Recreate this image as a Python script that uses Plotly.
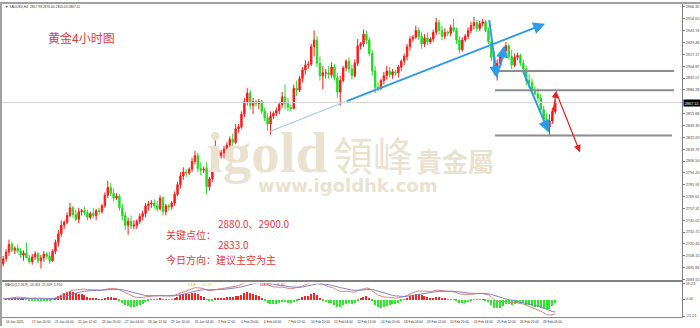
import plotly.graph_objects as go

W, H = 700, 328

# ---------------- data (XAUUSD H4) ----------------
opens = [2700,2705,2712,2720, 2714,2716,2713,2709,2711,2706,
         2702,2707,2710,2703,2706,2710, 2708,2703,2713,2722,2731,2740,
         2743,2750,2758,2751,2746,2754, 2755,2753,2748,2752,2750,2755,
         2754,2760,2771,2779,2773,2768, 2770,2758,2750,2740,2744,2739,
         2740,2744,2749,2752,2760,2762, 2763,2760,2757,2768,2754,2760,
         2759,2763,2772,2782,2791,2795, 2794,2798,2806,2812,2799,2797,
         2799,2780,2788,2805,2818,2812, 2815,2819,2823,2829,2826,2840,
         2842,2855,2868,2877,2864,2868, 2866,2868,2858,2851,2845,2853,
         2856,2859,2865,2873,2866,2862, 2861,2882,2880,2892,2901,2906,
         2907,2925,2932,2908,2895,2898, 2898,2896,2904,2893,2878,2890,
         2903,2910,2902,2895,2908,2926, 2928,2938,2932,2918,2900,2883,
         2882,2890,2895,2900,2896,2899, 2898,2904,2910,2915,2925,2933,
         2935,2942,2936,2928,2934,2930, 2933,2940,2950,2942,2936,2940,
         2939,2945,2942,2932,2922,2932, 2936,2942,2947,2950,2944,2949,
         2951,2942,2930,2914,2900,2908, 2915,2921,2926,2915,2906,2914,
         2916,2908,2902,2890,2888,2880, 2876,2872,2860,2850,2842,2848,
         2857.93]
highs = [2708,2715,2725,2723, 2718,2720,2716,2714,2722,2709,
         2710,2713,2712,2709,2713,2712, 2712,2715,2725,2735,2745,2745,
         2753,2763,2760,2756,2758,2757, 2759,2756,2754,2758,2757,2758,
         2762,2774,2786,2784,2778,2773, 2772,2762,2754,2748,2750,2745,
         2746,2752,2755,2763,2765,2766, 2767,2765,2771,2770,2762,2762,
         2765,2775,2785,2795,2800,2798, 2800,2810,2817,2815,2805,2801,
         2805,2790,2808,2830,2822,2818, 2822,2826,2832,2835,2845,2845,
         2858,2872,2882,2880,2872,2870, 2871,2870,2862,2856,2858,2858,
         2862,2868,2878,2886,2872,2865, 2886,2890,2895,2904,2911,2910,
         2928,2942,2936,2915,2905,2902, 2905,2909,2907,2898,2895,2905,
         2912,2914,2906,2912,2933,2930, 2943,2942,2935,2922,2905,2888,
         2892,2899,2905,2904,2902,2901, 2906,2912,2918,2928,2936,2937,
         2947,2945,2940,2938,2940,2935, 2943,2955,2953,2947,2944,2942,
         2948,2954,2945,2936,2935,2938, 2945,2951,2956,2953,2952,2954,
         2953,2945,2933,2920,2912,2918, 2924,2930,2928,2922,2918,2919,
         2918,2912,2905,2897,2892,2884, 2882,2876,2864,2856,2855,2862,
         2870.00]
lows = [2697,2702,2708,2712, 2710,2711,2706,2703,2707,2700,
        2699,2704,2700,2695,2702,2705, 2700,2702,2710,2718,2728,2736,
        2741,2748,2748,2744,2742,2750, 2750,2745,2746,2747,2745,2751,
        2752,2758,2768,2770,2765,2766, 2755,2745,2735,2730,2736,2736,
        2736,2741,2745,2748,2755,2758, 2757,2754,2755,2750,2750,2755,
        2756,2760,2770,2778,2787,2790, 2792,2795,2803,2795,2792,2794,
        2772,2776,2785,2802,2808,2809, 2809,2815,2819,2820,2824,2836,
        2840,2852,2864,2860,2855,2863, 2860,2855,2848,2838,2834,2850,
        2853,2855,2862,2860,2858,2858, 2860,2874,2878,2888,2896,2902,
        2905,2915,2904,2890,2881,2892, 2892,2893,2890,2872,2864,2888,
        2900,2898,2891,2893,2905,2922, 2925,2928,2915,2895,2877,2879,
        2880,2886,2891,2893,2892,2895, 2893,2900,2906,2911,2921,2930,
        2933,2932,2923,2925,2927,2928, 2930,2937,2938,2932,2933,2936,
        2936,2940,2928,2918,2920,2930, 2933,2939,2943,2940,2941,2946,
        2940,2928,2910,2895,2890,2905, 2912,2916,2912,2902,2904,2911,
        2905,2898,2885,2882,2876,2875, 2868,2857,2845,2838,2832,2845,
        2855.03]
closes = [2705,2712,2720,2714, 2716,2713,2709,2711,2706,2702,
          2707,2710,2703,2706,2710,2708, 2703,2713,2722,2731,2740,2743,
          2750,2758,2751,2746,2754,2755, 2753,2748,2752,2750,2755,2754,
          2760,2771,2779,2773,2768,2770, 2758,2750,2740,2744,2739,2740,
          2744,2749,2752,2760,2762,2763, 2760,2757,2768,2754,2760,2759,
          2763,2772,2782,2791,2795,2794, 2798,2806,2812,2799,2797,2798,
          2780,2788,2805,2818,2812,2815, 2819,2823,2829,2826,2840,2842,
          2855,2868,2877,2864,2868,2866, 2868,2858,2851,2845,2853,2856,
          2859,2865,2873,2866,2862,2861, 2882,2880,2892,2901,2906,2907,
          2925,2932,2908,2895,2898,2898, 2896,2904,2893,2878,2890,2903,
          2910,2902,2895,2908,2926,2928, 2938,2932,2918,2900,2883,2882,
          2890,2895,2900,2896,2899,2898, 2904,2910,2915,2925,2933,2935,
          2942,2936,2928,2934,2930,2933, 2940,2950,2942,2936,2940,2939,
          2945,2942,2932,2922,2932,2936, 2942,2947,2950,2944,2949,2951,
          2942,2930,2914,2900,2908,2915, 2921,2926,2915,2906,2914,2916,
          2908,2902,2890,2888,2880,2876, 2872,2860,2850,2842,2848,2858,
          2867.11]

x_label_idx = [0, 9, 17, 25, 33, 41, 49, 57, 65, 73, 81, 89, 97, 105, 113,
               121, 129, 137, 145, 153, 161, 169, 177, 185]
x_labels = ["16 Jan 2025", "17 Jan 20:00", "21 Jan 04:00", "22 Jan 12:00",
            "23 Jan 20:00", "27 Jan 04:00", "28 Jan 12:00", "29 Jan 20:00",
            "31 Jan 04:00", "3 Feb 12:00", "4 Feb 20:00", "6 Feb 04:00",
            "7 Feb 12:00", "10 Feb 20:00", "12 Feb 04:00", "13 Feb 12:00",
            "14 Feb 20:00", "18 Feb 04:00", "19 Feb 12:00", "20 Feb 20:00",
            "24 Feb 04:00", "25 Feb 12:00", "26 Feb 20:00", "28 Feb 04:00"]
y_tick_labels = ["2966.35", "2954.05", "2941.76", "2929.46", "2917.17",
                 "2904.87", "2892.57", "2880.28", "2855.68", "2843.39",
                 "2831.09", "2818.79", "2806.50", "2794.20", "2781.91",
                 "2769.61", "2757.31", "2745.02", "2732.72", "2720.43",
                 "2708.13", "2695.83", "2683.55"]
macd_tick_labels = ["19.23", "0.00", "-21.21"]
key_levels = [2900.0, 2880.0, 2833.0]
last_price = 2867.11

# ---------------- MACD(12,26,9) from the closes ----------------
def ema(vals, n):
    k = 2.0 / (n + 1)
    out, e = [], vals[0]
    for v in vals:
        e = v * k + e * (1 - k)
        out.append(e)
    return out

e12, e26 = ema(closes, 12), ema(closes, 26)
dif = [a - b for a, b in zip(e12, e26)]
dea = ema(dif, 9)
hist = [2 * (a - b) for a, b in zip(dif, dea)]
idx = list(range(len(closes)))

# ---------------- figure ----------------
def py(y):
    return 1 - y / H

fig = go.Figure()
fig.add_trace(go.Candlestick(
    x=idx, open=opens, high=highs, low=lows, close=closes,
    increasing=dict(line=dict(color="#ff1a1a", width=1), fillcolor="#ff1a1a"),
    decreasing=dict(line=dict(color="#22dd22", width=1), fillcolor="#22dd22"),
    whiskerwidth=0, xaxis="x", yaxis="y", showlegend=False, hoverinfo="skip"))

fig.add_trace(go.Bar(
    x=idx, y=hist, width=0.4,
    marker=dict(color=["#ff2020" if v >= 0 else "#22ee22" for v in hist], line=dict(width=0)),
    xaxis="x2", yaxis="y2", showlegend=False, hoverinfo="skip"))
fig.add_trace(go.Scatter(x=idx, y=dif, mode="lines", line=dict(color="#d88080", width=1),
                         xaxis="x2", yaxis="y2", showlegend=False, hoverinfo="skip"))
fig.add_trace(go.Scatter(x=idx, y=dea, mode="lines", line=dict(color="#8080c8", width=1),
                         xaxis="x2", yaxis="y2", showlegend=False, hoverinfo="skip"))

xr = [-0.4, 233.6]
ydom = [py(282), py(3)]
y2dom = [py(318), py(285)]
xdom = [2 / W, 682 / W]

ann = []
# watermark
wm = "rgb(234,226,208)"
ann += [
    dict(text="<b>igold</b>", x=205 / W, y=py(152), xanchor="left", yanchor="middle",
         font=dict(family="Liberation Serif", size=57, color=wm)),
    dict(text="領峰", x=331 / W, y=py(154), xanchor="left", yanchor="middle",
         font=dict(family="Noto Sans CJK TC", size=40, color=wm)),
    dict(text="<b>貴金屬</b>", x=414 / W, y=py(160), xanchor="left", yanchor="middle",
         font=dict(family="Noto Sans CJK TC", size=26, color=wm)),
    dict(text="<b>www.igoldhk.com</b>", x=256 / W, y=py(186), xanchor="left", yanchor="middle",
         font=dict(family="DejaVu Sans", size=18, color=wm)),
]
for a in ann:
    a.update(xref="paper", yref="paper", showarrow=False)

red = "#e23a3a"
texts = [
    ("黄金4小时图", 46, 36, 12, "Noto Sans CJK SC", red),
    ("2880.0、2900.0", 216, 224, 10, "Noto Sans CJK SC", red),
    ("关键点位：", 164, 235, 10, "Noto Sans CJK SC", red),
    ("2833.0", 216, 245, 10, "Noto Sans CJK SC", red),
    ("今日方向：建议主空为主", 164, 261, 10, "Noto Sans CJK SC", red),
    ("▼ XAUUSD,H4  2857.93 2870.00 2855.03 2867.11", 3, 5, 3.3, "Liberation Sans", "#333"),
    ("MACD(12,26,9) -16.263 -15.309 -5.910", 3, 286, 3.3, "Liberation Sans", "#333"),
    ("DEA:    -15.31", 186, 286, 3.8, "Liberation Sans", "#e6c800"),
    ("MACD:    -5.91", 258, 286, 3.8, "Liberation Sans", "#d04040"),
]
for t, x, y, s, f, c in texts:
    ann.append(dict(text=t, x=x / W, y=py(y), xref="paper", yref="paper", xanchor="left",
                    yanchor="middle", showarrow=False, font=dict(family=f, size=s, color=c)))

# x labels
for i, lab in zip(x_label_idx, x_labels):
    ann.append(dict(text=lab, x=i, y=py(323.5), xref="x2", yref="paper", xanchor="left",
                    yanchor="middle", showarrow=False, xshift=0.5,
                    font=dict(family="Liberation Sans Narrow, Liberation Sans", size=3.2, color="#333")))

# price tag
ann.append(dict(text="2867.11", x=683 / W, y=last_price, xref="paper", yref="y",
                xanchor="left", yanchor="middle", showarrow=False, bgcolor="#000",
                borderpad=0.5, font=dict(family="Liberation Sans", size=4, color="#fff")))

# drawn arrows (idx, price)
blue = "#2d9be8"
arrows = [
    ((117.7, 2868.0), (186.5, 2948.9), blue, 2),
    ((167.2, 2954.1), (169.9, 2892.6), blue, 2),
    ((171.1, 2903.9), (172.5, 2926.4), blue, 2),
    ((178.6, 2901.8), (187.8, 2836.2), blue, 2),
    ((188.6, 2846.5), (190.4, 2879.3), "#e82020", 1.2),
    ((190.4, 2877.0), (198.5, 2815.7), "#e82020", 1.2),
]
for (x0, y0), (x1, y1), c, w in arrows:
    ann.append(dict(x=x1, y=y1, ax=x0, ay=y0, xref="x", yref="y", axref="x", ayref="y",
                    text="", showarrow=True, arrowhead=2, arrowsize=1.2, arrowwidth=w,
                    arrowcolor=c))

shapes = []
shapes.append(dict(type="line", xref="x", yref="y", x0=91.8, y0=2837.2, x1=117.7, y1=2868.0,
                   line=dict(color="#8cc8f0", width=1)))
shapes.append(dict(type="line", xref="paper", yref="y", x0=2 / W, x1=682 / W,
                   y0=last_price, y1=last_price, line=dict(color="#cfcfcf", width=1)))
for lv, xe in zip(key_levels, [674, 674, 672]):
    shapes.append(dict(type="line", xref="paper", yref="y", x0=495 / W, x1=xe / W,
                       y0=lv, y1=lv, line=dict(color="#8c8c8c", width=2)))
shapes += [
    dict(type="rect", xref="paper", yref="paper", x0=0, x1=1, y0=py(2), y1=1,
         fillcolor="#a0a0a0", line=dict(width=0)),
    dict(type="rect", xref="paper", yref="paper", x0=0, x1=2 / W, y0=0, y1=1,
         fillcolor="#a0a0a0", line=dict(width=0)),
    dict(type="line", xref="paper", yref="paper", x0=2 / W, x1=682 / W, y0=py(282.5), y1=py(282.5),
         line=dict(color="#808080", width=2)),
    dict(type="line", xref="paper", yref="paper", x0=2 / W, x1=682 / W, y0=py(319.5), y1=py(319.5),
         line=dict(color="#808080", width=1)),
    dict(type="line", xref="paper", yref="paper", x0=682.5 / W, x1=682.5 / W, y0=py(319.5), y1=py(2),
         line=dict(color="#808080", width=1)),
]

ytv = [float(v) for v in y_tick_labels]
fig.update_layout(
    width=W, height=H, margin=dict(l=0, r=0, t=0, b=0),
    paper_bgcolor="white", plot_bgcolor="white",
    annotations=ann, shapes=shapes, bargap=0,
    xaxis=dict(domain=xdom, range=xr, showgrid=False, zeroline=False, showticklabels=False,
               rangeslider=dict(visible=False), fixedrange=True),
    yaxis=dict(domain=ydom, range=[2682.5, 2968.4], side="right", showgrid=False, zeroline=False,
               tickvals=ytv, ticktext=y_tick_labels, ticks="outside", ticklen=2, tickcolor="#777",
               tickfont=dict(family="Liberation Sans", size=3.8, color="#444")),
    xaxis2=dict(domain=xdom, range=xr, anchor="y2", showgrid=False, zeroline=False,
                showticklabels=False, matches="x"),
    yaxis2=dict(domain=y2dom, range=[-21.21, 19.23], side="right", anchor="x2", showgrid=False,
                zeroline=False, tickvals=[float(v) for v in macd_tick_labels],
                ticktext=macd_tick_labels, ticks="outside", ticklen=2, tickcolor="#777",
                tickfont=dict(family="Liberation Sans", size=3.8, color="#444")),
)
fig.write_html("out.html")
